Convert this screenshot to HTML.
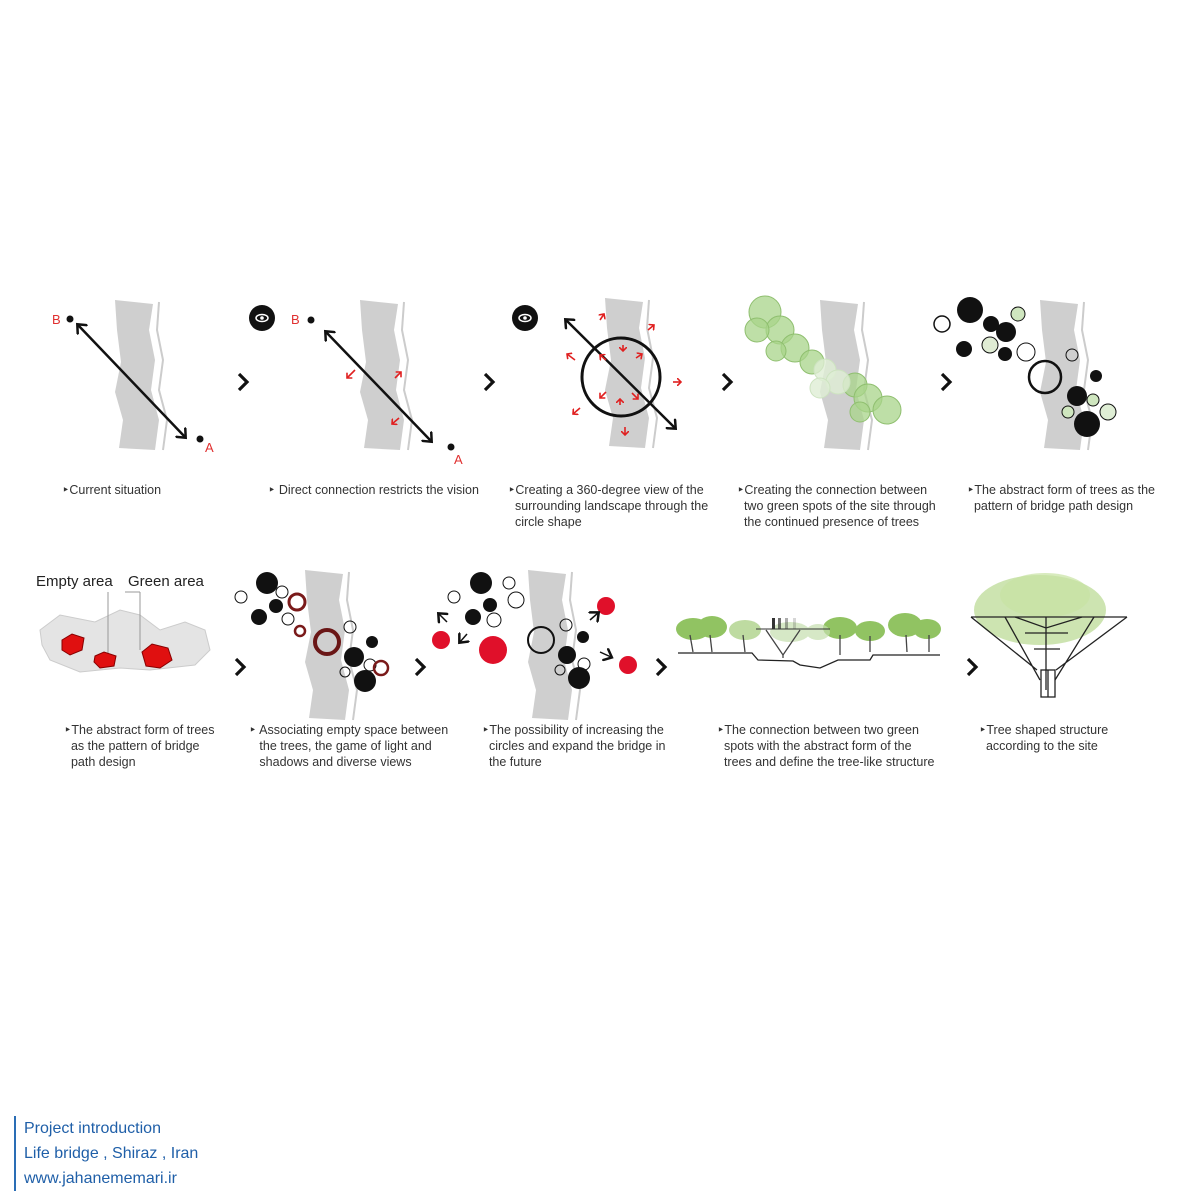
<!DOCTYPE html>
<html><head><meta charset="utf-8"><style>
body{margin:0;background:#fff;width:1200px;height:1200px;overflow:hidden;font-family:"Liberation Sans",sans-serif}
svg{position:absolute;left:0;top:0}
.cap{position:absolute;font-size:12.5px;line-height:16px;color:#333}
.foot{position:absolute;left:14px;top:1116px;border-left:2px solid #2a6db5;padding-left:8px;color:#1f5fa8;font-size:16px;line-height:25px}
</style></head><body>
<svg width="1200" height="1200" viewBox="0 0 1200 1200">
<defs>
<path id="riv" d="M0 0 L38 4 L34 30 L40 60 L36 90 L44 120 L40 150 L4 148 L8 120 L0 92 L6 62 L2 30 Z" fill="#cfcfcf"/>
<path id="rivline" d="M44 2 L42 30 L48 60 L44 90 L52 120 L48 150" fill="none" stroke="#ccc" stroke-width="2"/>
<marker id="ah" markerWidth="14" markerHeight="14" refX="7" refY="7" orient="auto-start-reverse" markerUnits="userSpaceOnUse"><path d="M0 0 L8 7 L0 14" fill="none" stroke="#111" stroke-width="2.5"/></marker>
<marker id="rh" markerWidth="8" markerHeight="8" refX="4" refY="4" orient="auto" markerUnits="userSpaceOnUse"><path d="M0 0 L4 4 L0 8" fill="none" stroke="#e02020" stroke-width="1.6"/></marker>
</defs>
<!-- panel1 -->
<use href="#riv" x="115" y="300"/><use href="#rivline" x="115" y="300"/>
<line x1="78" y1="325" x2="185" y2="437" stroke="#111" stroke-width="2.5" marker-start="url(#ah)" marker-end="url(#ah)"/>
<circle cx="70" cy="319" r="3.5" fill="#111"/><text x="52" y="324" fill="#e03030" font-size="13">B</text>
<circle cx="200" cy="439" r="3.5" fill="#111"/><text x="205" y="452" fill="#e03030" font-size="13">A</text>
<!-- panel2 -->
<circle cx="262" cy="318" r="13" fill="#111"/><ellipse cx="262" cy="318" rx="6" ry="3.5" fill="none" stroke="#fff" stroke-width="1.5"/><circle cx="262" cy="318" r="1.8" fill="#fff"/>
<text x="291" y="324" fill="#e03030" font-size="13">B</text><circle cx="311" cy="320" r="3.5" fill="#111"/>
<use href="#riv" x="360" y="300"/><use href="#rivline" x="360" y="300"/>
<line x1="326" y1="332" x2="431" y2="441" stroke="#111" stroke-width="2.5" marker-start="url(#ah)" marker-end="url(#ah)"/>
<circle cx="451" cy="447" r="3.5" fill="#111"/><text x="454" y="464" fill="#e03030" font-size="13">A</text>
<line x1="355" y1="370" x2="347" y2="378" stroke="#e02020" stroke-width="1.6" marker-end="url(#rh)"/>
<line x1="395" y1="378" x2="401" y2="372" stroke="#e02020" stroke-width="1.6" marker-end="url(#rh)"/>
<line x1="399" y1="418" x2="392" y2="424" stroke="#e02020" stroke-width="1.6" marker-end="url(#rh)"/>
<!-- panel3 -->
<circle cx="525" cy="318" r="13" fill="#111"/><ellipse cx="525" cy="318" rx="6" ry="3.5" fill="none" stroke="#fff" stroke-width="1.5"/><circle cx="525" cy="318" r="1.8" fill="#fff"/>
<use href="#riv" x="605" y="298"/><use href="#rivline" x="605" y="298"/>
<circle cx="621" cy="377" r="39" fill="none" stroke="#111" stroke-width="3"/>
<line x1="566" y1="320" x2="675" y2="428" stroke="#111" stroke-width="2.5" marker-start="url(#ah)" marker-end="url(#ah)"/>
<g stroke="#e02020" stroke-width="1.6">
<line x1="600" y1="320" x2="604" y2="314" marker-end="url(#rh)"/><line x1="648" y1="330" x2="654" y2="325" marker-end="url(#rh)"/>
<line x1="575" y1="360" x2="567" y2="354" marker-end="url(#rh)"/><line x1="673" y1="382" x2="681" y2="382" marker-end="url(#rh)"/>
<line x1="580" y1="408" x2="573" y2="414" marker-end="url(#rh)"/><line x1="625" y1="427" x2="625" y2="435" marker-end="url(#rh)"/>
<line x1="606" y1="360" x2="600" y2="355" marker-end="url(#rh)"/><line x1="636" y1="358" x2="642" y2="354" marker-end="url(#rh)"/>
<line x1="606" y1="392" x2="600" y2="398" marker-end="url(#rh)"/><line x1="632" y1="393" x2="638" y2="399" marker-end="url(#rh)"/>
<line x1="623" y1="345" x2="623" y2="351" marker-end="url(#rh)"/><line x1="620" y1="405" x2="620" y2="399" marker-end="url(#rh)"/>
</g>
<!-- panel4 -->
<use href="#riv" x="820" y="300"/><use href="#rivline" x="820" y="300"/>
<g fill="#a8d48a" fill-opacity="0.75" stroke="#8fbf6f">
<circle cx="765" cy="312" r="16"/><circle cx="780" cy="330" r="14"/><circle cx="757" cy="330" r="12"/><circle cx="795" cy="348" r="14"/><circle cx="776" cy="351" r="10"/><circle cx="812" cy="362" r="12"/>
<circle cx="855" cy="385" r="12"/><circle cx="868" cy="398" r="14"/><circle cx="887" cy="410" r="14"/><circle cx="860" cy="412" r="10"/>
</g>
<g fill="#dfeed5" fill-opacity="0.8" stroke="#cde3c0"><circle cx="825" cy="370" r="11"/><circle cx="838" cy="382" r="12"/><circle cx="820" cy="388" r="10"/></g>
<!-- panel5 -->
<use href="#riv" x="1040" y="300"/><use href="#rivline" x="1040" y="300"/>
<circle cx="970" cy="310" r="13" fill="#111"/><circle cx="942" cy="324" r="8" fill="none" stroke="#111" stroke-width="1.5"/>
<circle cx="991" cy="324" r="8" fill="#111"/><circle cx="1006" cy="332" r="10" fill="#111"/><circle cx="1018" cy="314" r="7" fill="#cfe6bf" stroke="#111"/>
<circle cx="964" cy="349" r="8" fill="#111"/><circle cx="990" cy="345" r="8" fill="#e0ecd4" stroke="#111"/><circle cx="1005" cy="354" r="7" fill="#111"/><circle cx="1026" cy="352" r="9" fill="#fff" stroke="#111"/>
<circle cx="1045" cy="377" r="16" fill="none" stroke="#111" stroke-width="2.5"/><circle cx="1072" cy="355" r="6" fill="none" stroke="#111"/><circle cx="1096" cy="376" r="6" fill="#111"/>
<circle cx="1077" cy="396" r="10" fill="#111"/><circle cx="1093" cy="400" r="6" fill="#cfe6bf" stroke="#111"/><circle cx="1108" cy="412" r="8" fill="#dfeed5" stroke="#111"/><circle cx="1087" cy="424" r="13" fill="#111"/><circle cx="1068" cy="412" r="6" fill="#cfe6bf" stroke="#111"/>
<!-- chevrons -->
<g fill="none" stroke="#111" stroke-width="3.2">
<path d="M239 374 L247 382 L239 390"/><path d="M485 374 L493 382 L485 390"/><path d="M723 374 L731 382 L723 390"/><path d="M942 374 L950 382 L942 390"/>
<path d="M236 659 L244 667 L236 675"/><path d="M416 659 L424 667 L416 675"/><path d="M657 659 L665 667 L657 675"/><path d="M968 659 L976 667 L968 675"/>
</g>
<!-- row2 panel1 -->
<text x="36" y="586" font-size="15" fill="#222">Empty area</text><text x="128" y="586" font-size="15" fill="#222">Green area</text>
<path d="M40 630 L60 615 L95 622 L120 610 L140 615 L160 630 L185 622 L205 630 L210 650 L195 665 L150 670 L120 668 L80 672 L50 660 L42 645 Z" fill="#e4e4e4" stroke="#ccc"/>
<line x1="108" y1="592" x2="108" y2="658" stroke="#999"/><line x1="140" y1="592" x2="140" y2="650" stroke="#999"/><line x1="125" y1="592" x2="140" y2="592" stroke="#999"/>
<path d="M62 640 L72 634 L84 638 L82 650 L70 655 L62 650 Z" fill="#e01010" stroke="#800"/>
<path d="M95 656 L104 652 L116 656 L114 666 L100 668 L94 662 Z" fill="#e01010" stroke="#800"/>
<path d="M142 652 L152 644 L168 648 L172 660 L160 668 L146 666 Z" fill="#e01010" stroke="#800"/>
<!-- row2 panel2 -->
<use href="#riv" x="305" y="570"/><use href="#rivline" x="305" y="570"/>
<circle cx="267" cy="583" r="11" fill="#111"/><circle cx="241" cy="597" r="6" fill="none" stroke="#111"/><circle cx="282" cy="592" r="6" fill="none" stroke="#111"/><circle cx="297" cy="602" r="8" fill="none" stroke="#7a1a1a" stroke-width="3"/>
<circle cx="276" cy="606" r="7" fill="#111"/><circle cx="259" cy="617" r="8" fill="#111"/><circle cx="288" cy="619" r="6" fill="none" stroke="#111"/><circle cx="300" cy="631" r="5" fill="none" stroke="#7a1a1a" stroke-width="2.5"/>
<circle cx="327" cy="642" r="12" fill="none" stroke="#6a1616" stroke-width="4"/><circle cx="350" cy="627" r="6" fill="none" stroke="#111"/><circle cx="372" cy="642" r="6" fill="#111"/>
<circle cx="354" cy="657" r="10" fill="#111"/><circle cx="370" cy="665" r="6" fill="none" stroke="#111"/><circle cx="381" cy="668" r="7" fill="none" stroke="#7a1a1a" stroke-width="2.5"/><circle cx="365" cy="681" r="11" fill="#111"/><circle cx="345" cy="672" r="5" fill="none" stroke="#111"/>
<!-- row2 panel3 -->
<use href="#riv" x="528" y="570"/><use href="#rivline" x="528" y="570"/>
<circle cx="481" cy="583" r="11" fill="#111"/><circle cx="454" cy="597" r="6" fill="none" stroke="#111"/><circle cx="509" cy="583" r="6" fill="none" stroke="#111"/><circle cx="516" cy="600" r="8" fill="none" stroke="#111"/>
<circle cx="490" cy="605" r="7" fill="#111"/><circle cx="473" cy="617" r="8" fill="#111"/><circle cx="494" cy="620" r="7" fill="none" stroke="#111"/>
<circle cx="541" cy="640" r="13" fill="none" stroke="#111" stroke-width="2"/><circle cx="566" cy="625" r="6" fill="none" stroke="#111"/><circle cx="583" cy="637" r="6" fill="#111"/>
<circle cx="567" cy="655" r="9" fill="#111"/><circle cx="584" cy="664" r="6" fill="none" stroke="#111"/><circle cx="579" cy="678" r="11" fill="#111"/><circle cx="560" cy="670" r="5" fill="none" stroke="#111"/>
<circle cx="606" cy="606" r="9" fill="#e0102a"/><circle cx="441" cy="640" r="9" fill="#e0102a"/><circle cx="493" cy="650" r="14" fill="#e0102a"/><circle cx="628" cy="665" r="9" fill="#e0102a"/>
<g stroke="#111" stroke-width="1.5"><line x1="447" y1="622" x2="439" y2="614" marker-end="url(#ah)"/><line x1="467" y1="634" x2="460" y2="642" marker-end="url(#ah)"/><line x1="590" y1="620" x2="598" y2="613" marker-end="url(#ah)"/><line x1="600" y1="652" x2="611" y2="657" marker-end="url(#ah)"/></g>
<!-- row2 panel4 section -->
<g fill="#8cc05a" opacity="0.95">
<ellipse cx="693" cy="629" rx="17" ry="11"/><ellipse cx="712" cy="627" rx="15" ry="11"/><ellipse cx="745" cy="630" rx="16" ry="10" opacity="0.6"/>
<ellipse cx="840" cy="628" rx="17" ry="11"/><ellipse cx="870" cy="631" rx="15" ry="10"/><ellipse cx="905" cy="625" rx="17" ry="12"/><ellipse cx="927" cy="629" rx="14" ry="10"/>
</g>
<g fill="#c5dfae" opacity="0.7"><ellipse cx="790" cy="632" rx="20" ry="10"/><ellipse cx="818" cy="632" rx="12" ry="8"/></g>
<g stroke="#444" stroke-width="1.3" fill="none">
<line x1="690" y1="635" x2="693" y2="652"/><line x1="710" y1="635" x2="712" y2="652"/><line x1="743" y1="635" x2="745" y2="652"/><line x1="840" y1="635" x2="840" y2="655"/><line x1="870" y1="636" x2="870" y2="652"/><line x1="906" y1="635" x2="907" y2="652"/><line x1="929" y1="635" x2="929" y2="652"/>
<path d="M766 630 L783 655 L800 630"/><line x1="783" y1="655" x2="783" y2="658"/>
</g>
<path d="M678 653 L752 653 L758 660 L793 661 L800 665 L820 668 L838 660 L870 660 L873 655 L940 655" fill="none" stroke="#222" stroke-width="1.3"/>
<line x1="756" y1="629" x2="830" y2="629" stroke="#333"/>
<g fill="#333"><rect x="772" y="618" width="3" height="11"/><rect x="778" y="618" width="3" height="11" opacity="0.7"/><rect x="785" y="618" width="3" height="11" opacity="0.4"/><rect x="793" y="618" width="3" height="11" opacity="0.2"/></g>
<!-- row2 panel5 tree -->
<ellipse cx="1040" cy="610" rx="66" ry="35" fill="#b8d890" opacity="0.7"/>
<ellipse cx="1045" cy="595" rx="45" ry="22" fill="#c8e2a2" opacity="0.7"/>
<g stroke="#222" stroke-width="1.3" fill="none">
<line x1="971" y1="617" x2="1127" y2="617"/>
<path d="M971 617 L1037 670 M1127 617 L1056 670 M1005 617 L1040 680 M1094 617 L1055 680 M1015 617 L1046 628 L1082 617 M1046 617 L1046 690 M1025 633 L1068 633 M1034 649 L1060 649"/>
<rect x="1041" y="670" width="14" height="27"/><line x1="1048" y1="670" x2="1048" y2="697"/>
</g>
</svg>
<div class="cap" style="left:62px;top:482px">‣Current situation</div>
<div class="cap" style="left:268px;top:482px">‣ Direct connection restricts the vision</div>
<div class="cap" style="left:508px;top:482px">‣Creating a 360-degree view of the<br>&nbsp;&nbsp;surrounding landscape through the<br>&nbsp;&nbsp;circle shape</div>
<div class="cap" style="left:737px;top:482px">‣Creating the connection between<br>&nbsp;&nbsp;two green spots of the site through<br>&nbsp;&nbsp;the continued presence of trees</div>
<div class="cap" style="left:967px;top:482px">‣The abstract form of trees as the<br>&nbsp;&nbsp;pattern of bridge path design</div>
<div class="cap" style="left:64px;top:722px">‣The abstract form of trees<br>&nbsp;&nbsp;as the pattern of bridge<br>&nbsp;&nbsp;path design</div>
<div class="cap" style="left:249px;top:722px">‣ Associating empty space between<br>&nbsp;&nbsp;&nbsp;the trees, the game of light and<br>&nbsp;&nbsp;&nbsp;shadows and diverse views</div>
<div class="cap" style="left:482px;top:722px">‣The possibility of increasing the<br>&nbsp;&nbsp;circles and expand the bridge in<br>&nbsp;&nbsp;the future</div>
<div class="cap" style="left:717px;top:722px">‣The connection between two green<br>&nbsp;&nbsp;spots with the abstract form of the<br>&nbsp;&nbsp;trees and define the tree-like structure</div>
<div class="cap" style="left:979px;top:722px">‣Tree shaped structure<br>&nbsp;&nbsp;according to the site</div>
<div class="foot">Project introduction<br>Life bridge , Shiraz , Iran<br>www.jahanememari.ir</div>
</body></html>
